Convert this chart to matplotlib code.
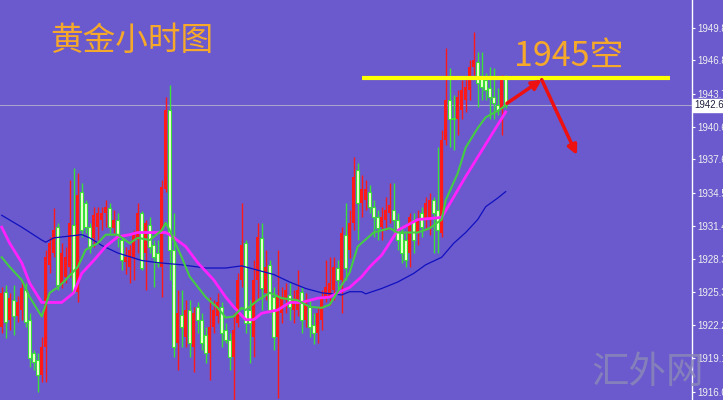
import matplotlib.pyplot as plt

plt.rcParams['font.family'] = ['Noto Sans CJK SC', 'DejaVu Sans']

# hourly gold candles (red = up, green = down)
opens = [1922.0, 1925.3, 1922.7, 1924.5, 1923.0, 1923.6, 1925.5, 1922.7, 1919.6, 1919.0,
         1917.6, 1920.2, 1927.8, 1928.9, 1931.3, 1925.9, 1926.7, 1927.6, 1931.5, 1925.3,
         1934.6, 1933.5, 1931.3, 1930.3, 1931.3, 1932.0, 1932.6, 1933.1, 1931.2, 1932.0,
         1930.1, 1928.1, 1927.6, 1928.5, 1930.1, 1932.6, 1928.9, 1931.5, 1929.6, 1928.9,
         1927.6, 1934.8, 1942.2, 1929.2, 1920.5, 1923.1, 1921.1, 1923.6, 1920.2, 1923.9,
         1922.7, 1921.3, 1919.6, 1922.0, 1923.0, 1923.9, 1921.7, 1920.8, 1919.2, 1922.4,
         1926.4, 1929.8, 1923.6, 1921.1, 1926.4, 1930.3, 1925.2, 1927.8, 1924.8, 1921.1,
         1923.3, 1924.5, 1925.0, 1923.6, 1923.6, 1925.3, 1922.7, 1923.9, 1922.2, 1921.5,
         1922.7, 1924.8, 1924.8, 1925.5, 1927.5, 1926.4, 1930.6, 1929.2, 1931.7, 1936.6,
         1933.5, 1933.8, 1934.6, 1933.2, 1932.2, 1931.3, 1932.0, 1932.6, 1932.9, 1932.0,
         1930.8, 1930.1, 1928.9, 1932.0, 1930.8, 1932.6, 1932.0, 1932.0, 1933.8, 1932.9,
         1930.8, 1939.4, 1943.1, 1941.4, 1941.3, 1942.2, 1943.1, 1944.0, 1946.2, 1946.6,
         1945.2, 1945.0, 1944.2, 1943.4, 1942.6, 1942.2, 1945.2]
highs = [1925.7, 1925.9, 1925.2, 1925.9, 1924.9, 1926.4, 1926.1, 1923.3, 1919.9, 1919.6,
         1921.1, 1929.2, 1930.4, 1933.1, 1931.7, 1929.8, 1929.5, 1935.7, 1936.8, 1936.3,
         1935.4, 1933.8, 1931.7, 1933.2, 1933.2, 1933.2, 1933.8, 1933.5, 1932.9, 1932.6,
         1930.4, 1929.5, 1929.6, 1931.0, 1933.5, 1932.8, 1932.0, 1932.2, 1930.1, 1930.1,
         1935.7, 1943.4, 1944.5, 1932.6, 1925.5, 1925.5, 1924.5, 1924.5, 1923.9, 1924.3,
         1923.3, 1922.0, 1924.8, 1924.5, 1925.2, 1924.3, 1922.4, 1921.5, 1923.3, 1927.0,
         1933.5, 1930.1, 1924.5, 1928.2, 1931.7, 1931.7, 1929.2, 1928.2, 1925.7, 1929.2,
         1925.7, 1926.1, 1926.1, 1925.5, 1927.3, 1925.7, 1925.2, 1924.5, 1923.3, 1923.9,
         1925.5, 1928.2, 1928.5, 1928.5, 1928.2, 1931.3, 1933.5, 1932.9, 1937.8, 1937.3,
         1936.1, 1935.7, 1935.2, 1933.8, 1932.9, 1933.2, 1934.1, 1935.4, 1935.4, 1932.6,
         1931.3, 1930.8, 1932.6, 1932.6, 1932.9, 1933.2, 1934.1, 1934.5, 1934.1, 1938.7,
         1940.3, 1947.9, 1946.1, 1943.6, 1944.0, 1945.0, 1945.2, 1946.8, 1949.4, 1947.6,
         1947.6, 1945.6, 1946.2, 1946.1, 1944.2, 1945.4, 1945.4]
lows = [1921.5, 1921.0, 1921.7, 1921.3, 1922.5, 1922.7, 1922.0, 1918.3, 1918.0, 1916.0,
        1916.9, 1916.9, 1927.0, 1928.5, 1925.5, 1925.6, 1926.1, 1926.7, 1925.2, 1924.3,
        1930.4, 1930.8, 1928.9, 1929.5, 1930.1, 1931.0, 1931.3, 1930.8, 1930.8, 1929.5,
        1927.3, 1926.9, 1926.1, 1926.4, 1928.9, 1927.3, 1925.5, 1928.9, 1925.7, 1927.6,
        1924.8, 1934.6, 1926.4, 1919.2, 1918.0, 1920.2, 1920.2, 1919.2, 1917.8, 1921.5,
        1919.9, 1918.7, 1917.1, 1921.5, 1922.4, 1920.2, 1920.5, 1918.0, 1915.2, 1922.0,
        1925.7, 1921.5, 1918.7, 1919.2, 1924.5, 1923.6, 1924.5, 1923.3, 1919.9, 1915.4,
        1922.4, 1923.3, 1922.7, 1922.4, 1923.0, 1921.5, 1922.0, 1921.1, 1920.4, 1920.5,
        1921.7, 1924.3, 1924.1, 1924.5, 1925.2, 1923.3, 1926.4, 1928.4, 1931.0, 1930.1,
        1932.2, 1932.9, 1932.6, 1930.4, 1930.1, 1930.1, 1931.0, 1931.7, 1930.4, 1929.2,
        1928.0, 1927.6, 1927.6, 1928.9, 1929.6, 1930.4, 1931.0, 1930.6, 1928.9, 1928.9,
        1930.4, 1938.9, 1938.7, 1938.5, 1939.9, 1941.3, 1942.0, 1943.1, 1945.4, 1942.5,
        1943.1, 1943.1, 1941.3, 1941.3, 1941.7, 1939.9, 1942.4]
closes = [1925.2, 1922.5, 1924.7, 1923.0, 1924.3, 1925.6, 1922.5, 1919.1, 1918.8, 1917.6,
          1920.2, 1928.5, 1929.8, 1931.0, 1925.9, 1928.9, 1928.5, 1931.7, 1925.3, 1934.3,
          1931.0, 1931.3, 1929.4, 1932.4, 1932.6, 1932.6, 1933.2, 1931.3, 1932.0, 1930.4,
          1928.2, 1928.5, 1929.2, 1930.8, 1932.6, 1927.5, 1931.7, 1929.5, 1928.5, 1928.0,
          1935.0, 1942.2, 1929.2, 1920.2, 1923.3, 1922.0, 1923.6, 1920.5, 1923.3, 1922.7,
          1920.5, 1919.6, 1922.0, 1923.6, 1924.3, 1921.5, 1920.8, 1919.2, 1921.7, 1926.4,
          1929.6, 1922.4, 1922.4, 1926.4, 1930.4, 1925.6, 1927.6, 1923.6, 1921.1, 1924.8,
          1924.8, 1925.5, 1923.9, 1924.5, 1925.5, 1922.7, 1924.5, 1922.0, 1921.5, 1923.3,
          1924.8, 1925.7, 1926.1, 1927.6, 1926.4, 1930.8, 1927.5, 1931.7, 1936.0, 1933.5,
          1934.8, 1934.8, 1933.2, 1932.2, 1931.2, 1932.2, 1932.9, 1933.4, 1932.0, 1930.1,
          1928.9, 1928.2, 1932.2, 1930.1, 1932.0, 1931.3, 1933.5, 1933.8, 1932.6, 1931.0,
          1939.4, 1943.1, 1941.3, 1941.3, 1943.4, 1944.0, 1944.3, 1946.2, 1946.8, 1944.7,
          1944.3, 1944.0, 1943.4, 1942.8, 1942.2, 1945.2, 1942.6]

# moving averages, sampled along the curves (candle index, price)
ma_fast_idx = [0, 2, 5, 7, 10, 12, 14, 16, 19, 21, 24, 26, 29, 32, 34, 37, 40, 41, 42, 45,
               47, 51, 54, 56, 58, 60, 61, 64, 67, 70, 74, 77, 80, 82, 84, 87, 89, 93, 97, 99,
               104, 107, 110, 111, 114, 116, 119, 121, 124, 126]
ma_fast = [1928.5, 1927.6, 1926.4, 1924.8, 1923.0, 1925.2, 1925.7, 1926.4, 1927.6, 1929.2,
           1929.8, 1930.6, 1930.6, 1929.8, 1930.3, 1930.1, 1931.0, 1931.7, 1931.0, 1928.5,
           1926.7, 1924.8, 1923.8, 1922.9, 1923.0, 1923.8, 1923.6, 1924.5, 1925.2, 1924.7,
           1924.5, 1923.9, 1923.8, 1924.1, 1925.3, 1927.1, 1929.5, 1930.8, 1931.2, 1930.8,
           1930.8, 1931.2, 1932.0, 1933.8, 1936.3, 1938.7, 1940.5, 1941.5, 1942.1, 1942.6]
ma_mid_idx = [0, 2, 5, 7, 10, 13, 15, 18, 20, 23, 26, 29, 32, 34, 37, 41, 42, 46, 49, 53,
              56, 58, 61, 63, 65, 69, 72, 75, 79, 82, 84, 87, 90, 92, 95, 99, 104, 107, 110,
              113, 116, 119, 122, 124, 126]
ma_mid = [1931.3, 1929.8, 1928.0, 1926.1, 1924.3, 1924.3, 1924.3, 1925.2, 1927.0, 1928.2,
          1929.5, 1930.4, 1930.6, 1930.8, 1930.8, 1930.8, 1930.6, 1929.5, 1928.0, 1926.4,
          1924.8, 1923.9, 1922.7, 1922.7, 1923.3, 1923.6, 1924.3, 1924.3, 1924.7, 1924.8,
          1925.2, 1925.7, 1926.7, 1927.6, 1928.7, 1931.0, 1932.0, 1932.1, 1932.2,
          1934.1, 1936.0, 1937.8, 1939.6, 1940.8, 1942.0]
ma_slow_idx = [0, 5, 10, 11, 13, 20, 22, 25, 29, 35, 39, 45, 51, 56, 60, 64, 68, 72, 76, 80,
               85, 87, 90, 91, 95, 99, 103, 106, 110, 113, 116, 119, 121, 124, 126]
ma_slow = [1932.4, 1931.3, 1930.1, 1929.9, 1930.3, 1930.6, 1930.3, 1929.6, 1928.9, 1928.2,
           1928.0, 1927.8, 1927.5, 1927.5, 1927.7, 1927.3, 1926.9, 1926.2, 1925.6, 1925.2,
           1925.0, 1925.3, 1925.3, 1925.1, 1925.6, 1926.2, 1927.0, 1927.8, 1928.5, 1929.8,
           1930.8, 1932.0, 1933.2, 1934.0, 1934.6]

y_ticks = [1949.8, 1946.8, 1943.7, 1940.6, 1937.6, 1934.5, 1931.4, 1928.3, 1925.3, 1922.2,
           1919.1, 1916.0]
last_price = 1942.6
short_level = 1945.2

BG = '#6a5acd'
UP = '#ff1a1a'
DOWN = '#38e038'


def draw_candles(ax):
    for i, (o, h, l, c) in enumerate(zip(opens, highs, lows, closes)):
        up = c >= o
        col = UP if up else DOWN
        ax.vlines(i, l, h, color=col, lw=1.0, zorder=2)
        height = max(abs(c - o), 0.12)
        if up:
            ax.bar(i, height, bottom=min(o, c), width=0.7, color=UP,
                   linewidth=0, zorder=3)
        else:
            ax.bar(i, height, bottom=min(o, c), width=0.7, color='#f2ffd6',
                   edgecolor=DOWN, linewidth=0.8, zorder=3)


fig = plt.figure(figsize=(7.23, 4.0), dpi=100)
fig.patch.set_facecolor(BG)
ax = fig.add_axes([0, 0, 692 / 723, 1])
ax.set_facecolor(BG)

draw_candles(ax)

ax.plot(ma_slow_idx, ma_slow, color='#1010c0', lw=0.9, zorder=4)
ax.plot(ma_mid_idx, ma_mid, color='#ff22ff', lw=2.0, zorder=4)
ax.plot(ma_fast_idx, ma_fast, color='#44cc44', lw=1.5, zorder=5)

ax.axhline(last_price, color='#a8a2cc', lw=0.8, zorder=1)
ax.hlines(short_level, 90, 167, color='#ffff00', lw=3, zorder=6)

# forecast arrows
ax.annotate('', xy=(135, 1945.0), xytext=(126.3, 1942.8), zorder=7,
            arrowprops=dict(arrowstyle='-|>', color='#ee1111', lw=2.5,
                            mutation_scale=14, shrinkA=0, shrinkB=0))
ax.annotate('', xy=(143.8, 1938.0), xytext=(135, 1945.0), zorder=7,
            arrowprops=dict(arrowstyle='-|>', color='#ee1111', lw=2.5,
                            mutation_scale=14, shrinkA=0, shrinkB=0))

ax.set_xlim(-0.425, 172.575)
ax.set_ylim(1915.24, 1952.4)
ax.set_xticks([])
for s in ['left', 'top', 'bottom']:
    ax.spines[s].set_visible(False)
ax.spines['right'].set_color('white')
ax.spines['right'].set_linewidth(1.0)
ax.yaxis.tick_right()
ax.set_yticks(y_ticks)
ax.set_yticklabels(['%.1f' % t for t in y_ticks], family='Liberation Sans')
ax.tick_params(axis='y', colors='white', labelcolor='#f0f0f0', length=2.5,
               width=0.8, labelsize=7, pad=1.5)

ax.annotate('%.1f' % last_price, xy=(1.0, last_price), xycoords=('axes fraction', 'data'),
            xytext=(2, 0), textcoords='offset points', va='center', ha='left',
            fontsize=7, family='Liberation Sans', color='#202040',
            bbox=dict(boxstyle='square,pad=0.15', fc='white', ec='white'),
            annotation_clip=False)

fig.text(50 / 723, 1 - 41 / 400, '黄金小时图', color='#f5a82a', fontsize=23.5,
         va='center', ha='left')
fig.text(514 / 723, 1 - 56 / 400, '1945空', color='#f5a82a', fontsize=24.5,
         va='center', ha='left')
fig.text(648 / 723, 1 - 372 / 400, '汇外网', color='#8a86b8', fontsize=27,
         va='center', ha='center', alpha=0.85)

fig.savefig('out.png', dpi=100, facecolor=BG)
